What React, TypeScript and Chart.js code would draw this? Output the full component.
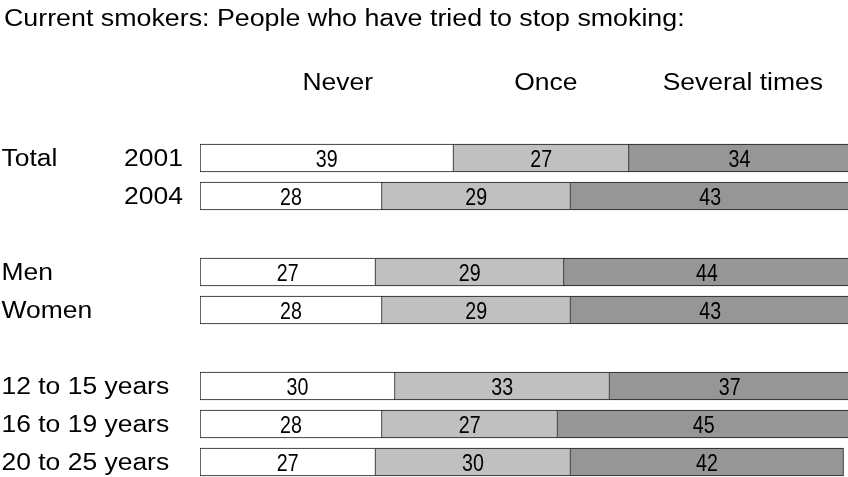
import React, { useEffect, useRef } from 'react';
import { Chart, registerables } from 'chart.js';

Chart.register(...registerables);

const titleText = 'Current smokers: People who have tried to stop smoking:';
const seriesNames = ['Never', 'Once', 'Several times'];
const groupLabels = ['Total', '', '', '', '', '', '', '', ''];
const rowLabels = ['2001', '2004', '', 'Men', 'Women', '', '12 to 15 years', '16 to 19 years', '20 to 25 years'];
const neverValues = [39, 28, null, 27, 28, null, 30, 28, 27];
const onceValues = [27, 29, null, 29, 29, null, 33, 27, 30];
const severalValues = [34, 43, null, 44, 43, null, 37, 45, 42];

const FONT = '"Liberation Sans", Arial, Helvetica, sans-serif';
const HEADER_AT = [21.2, 53.2, 83.5]; // header centres on the percentage axis

const textPlugin = {
  id: 'texts',
  afterDatasetsDraw(chart: any) {
    const ctx: CanvasRenderingContext2D = chart.ctx;
    const xs = chart.scales.x;
    const ys = chart.scales.y;
    ctx.save();
    ctx.fillStyle = '#000';
    const wide = (t: string, px: number, py: number, align: CanvasTextAlign, sx = 1.15) => {
      ctx.save();
      ctx.font = '23px ' + FONT;
      ctx.textAlign = align;
      ctx.textBaseline = 'alphabetic';
      ctx.translate(px, py);
      ctx.scale(sx, 1);
      ctx.fillText(t, 0, 0);
      ctx.restore();
    };
    wide(titleText, 4, 25.5, 'left', 1.165);
    seriesNames.forEach((n, k) => wide(n, xs.getPixelForValue(HEADER_AT[k]), 90, 'center'));
    rowLabels.forEach((lab, i) => {
      const cy = ys.getPixelForValue(i);
      const base = cy + 8.3;
      if (groupLabels[i]) wide(groupLabels[i], 1.5, base, 'left');
      if (!lab) return;
      if (/^\d{4}$/.test(lab)) wide(lab, 124, base, 'left');
      else wide(lab, 1.5, base, 'left');
    });
    chart.data.datasets.forEach((ds: any, d: number) => {
      const meta = chart.getDatasetMeta(d);
      meta.data.forEach((el: any, i: number) => {
        const v = ds.data[i];
        if (v == null) return;
        const p = el.getProps(['x', 'base', 'y'], true);
        const cx = (p.x + p.base) / 2;
        ctx.save();
        ctx.font = '24.5px ' + FONT;
        ctx.textAlign = 'center';
        ctx.textBaseline = 'alphabetic';
        ctx.translate(cx, p.y + 8.8);
        ctx.scale(0.8, 1);
        ctx.fillText(String(v), 0, 0);
        ctx.restore();
      });
    });
    ctx.restore();
  },
};

export default function App() {
  const ref = useRef<HTMLCanvasElement>(null);
  useEffect(() => {
    const canvas = ref.current;
    if (!canvas) return;
    const common = { borderColor: '#1a1a1a', borderWidth: 1, barThickness: 28 };
    const chart = new Chart(canvas, {
      type: 'bar',
      data: {
        labels: rowLabels,
        datasets: [
          { label: seriesNames[0], data: neverValues, backgroundColor: '#ffffff', borderSkipped: false, ...common },
          { label: seriesNames[1], data: onceValues, backgroundColor: '#c0c0c0', borderSkipped: 'start', ...common },
          { label: seriesNames[2], data: severalValues, backgroundColor: '#969696', borderSkipped: 'start', ...common },
        ] as any,
      },
      options: {
        indexAxis: 'y',
        responsive: false,
        animation: false,
        devicePixelRatio: 1,
        events: [],
        layout: { padding: { left: 200, right: 0, top: 139, bottom: 1 } },
        scales: {
          x: { stacked: true, min: 0, max: 100, display: false },
          y: { stacked: true, display: false },
        },
        plugins: {
          legend: { display: false },
          tooltip: { enabled: false },
          title: { display: false },
        },
      } as any,
      plugins: [textPlugin],
    });
    return () => chart.destroy();
  }, []);
  return (
    <div style={{ position: 'fixed', left: 0, top: 0, width: 848, height: 477, overflow: 'hidden', background: '#fff' }}>
      <canvas ref={ref} width={850} height={482} style={{ display: 'block', width: 850, height: 482 }} />
    </div>
  );
}
